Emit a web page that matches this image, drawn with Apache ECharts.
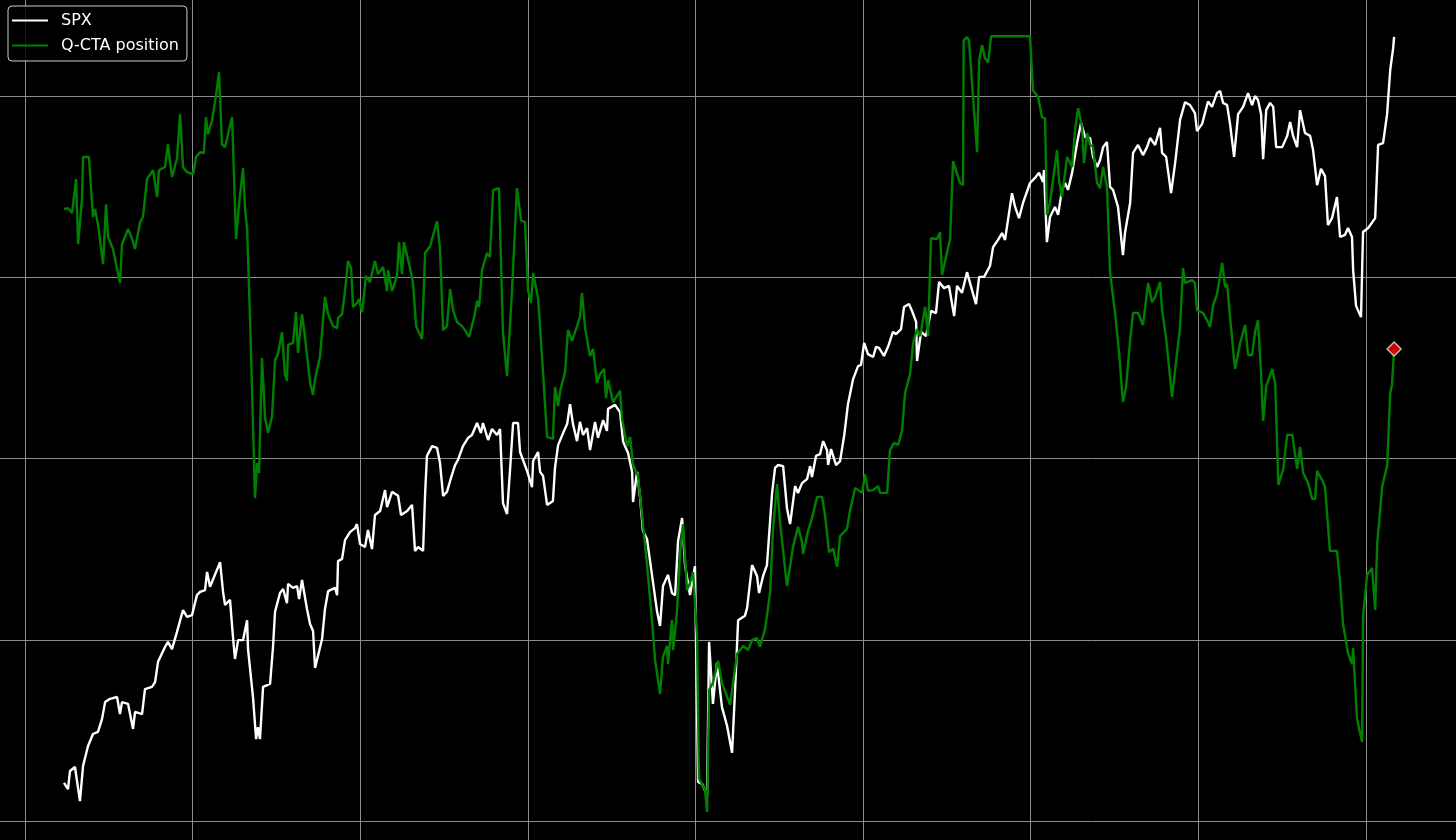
<!DOCTYPE html>
<html>
<head>
<meta charset="utf-8">
<script src="https://cdn.jsdelivr.net/npm/echarts@6/dist/echarts.min.js"></script>
<style>
  html, body { margin: 0; padding: 0; background: #000; }
  #chart { width: 1456px; height: 840px; }
</style>
</head>
<body>
<div id="chart"></div>
<script>
// x = days since 2024-04-01, grid every quarter (91.25 days)
const seriesNames = ["SPX", "Q-CTA position"];

// SPX level, [day, value]
const spxPoints = [
  [21.2,5105],[23.4,5088],[24.5,5138],[27.2,5149],[28.3,5110],[29.9,5055],[31.6,5152],[34.3,5207],[37.0,5240],[39.7,5246],
  [41.9,5281],[43.6,5328],[46.3,5337],[50.1,5342],[51.7,5295],[52.8,5328],[56.1,5323],[58.8,5254],[59.9,5301],[63.7,5295],
  [65.3,5364],[69.1,5370],[70.8,5383],[72.4,5439],[76.2,5480],[77.8,5494],[80.0,5474],[82.7,5521],[86.0,5582],[88.2,5563],
  [90.9,5568],[93.6,5623],[95.3,5632],[98.0,5637],[99.1,5687],[100.7,5646],[106.2,5714],[107.8,5632],[108.9,5596],[111.6,5610],
  [113.2,5508],[114.3,5447],[116.0,5499],[118.7,5499],[120.9,5554],[121.4,5474],[124.1,5342],[125.8,5226],[126.8,5259],[127.9,5226],
  [129.6,5370],[133.4,5378],[135.0,5480],[136.1,5577],[138.8,5629],[140.5,5640],[142.6,5601],[143.2,5654],[145.9,5643],[148.1,5648],
  [149.2,5612],[150.8,5665],[153.5,5585],[155.2,5543],[156.8,5524],[157.9,5422],[161.7,5502],[163.3,5585],[165.0,5634],[168.8,5643],
  [169.9,5623],[170.4,5717],[172.6,5723],[174.2,5775],[176.9,5797],[179.7,5808],[180.7,5819],[182.4,5764],[185.1,5756],[186.7,5803],
  [188.9,5750],[190.5,5844],[193.3,5855],[196.0,5913],[197.1,5866],[199.8,5908],[203.1,5897],[204.7,5844],[208.0,5855],[210.7,5872],
  [212.3,5745],[214.0,5756],[216.7,5745],[217.8,5902],[218.8,6007],[221.6,6034],[224.3,6029],[225.9,5988],[227.6,5897],[229.7,5908],
  [231.4,5938],[234.1,5982],[235.7,5996],[238.4,6034],[241.2,6057],[243.3,6065],[246.1,6098],[248.2,6070],[249.3,6098],[252.1,6051],
  [254.2,6081],[257.0,6065],[258.6,6081],[260.2,5877],[262.4,5847],[264.0,5966],[265.7,6098],[268.4,6098],[269.5,6018],[273.3,5966],
  [276.0,5921],[276.6,5993],[279.3,6018],[280.4,5963],[282.0,5952],[284.2,5872],[287.4,5883],[288.5,5974],[290.2,6037],[292.9,6070],
  [295.1,6095],[296.7,6150],[298.3,6095],[300.5,6048],[302.1,6101],[303.8,6065],[306.0,6084],[307.6,6023],[310.3,6101],[311.9,6057],
  [314.7,6106],[316.8,6076],[317.4,6137],[321.2,6148],[323.9,6128],[325.6,6046],[328.3,6015],[330.5,5963],[331.0,5880],[333.2,5963],
  [334.8,5894],[336.4,5800],[338.6,5778],[341.3,5679],[344.1,5577],[345.7,5538],[347.3,5648],[350.0,5679],[352.2,5629],[353.9,5623],
  [355.5,5772],[357.7,5836],[359.3,5706],[362.0,5623],[364.7,5703],[366.4,5108],[368.6,5102],[371.3,5072],[372.4,5494],[374.5,5323],
  [376.7,5436],[379.4,5314],[382.2,5262],[384.9,5188],[386.5,5356],[388.2,5554],[391.9,5566],[393.1,5588],[395.8,5706],[398.5,5676],
  [399.6,5629],[401.8,5676],[403.9,5706],[406.7,5905],[408.3,5974],[409.9,5982],[412.7,5979],[414.8,5863],[416.5,5819],[419.2,5924],
  [420.8,5905],[423.0,5932],[425.7,5943],[427.4,5979],[428.4,5949],[430.6,6007],[432.8,6012],[434.5,6048],[436.6,6023],[437.2,5982],
  [438.8,6026],[441.5,5982],[443.7,5993],[445.9,6062],[448.0,6150],[450.8,6219],[453.5,6255],[455.1,6258],[456.8,6319],[458.9,6288],
  [461.7,6280],[463.3,6308],[464.9,6305],[467.6,6283],[469.8,6308],[472.5,6349],[474.2,6343],[476.9,6357],[478.5,6418],[481.2,6426],
  [482.9,6407],[485.1,6377],[485.6,6269],[487.8,6349],[490.5,6338],[493.2,6407],[495.9,6401],[497.6,6487],[500.3,6470],[503.0,6476],
  [505.8,6393],[507.4,6476],[510.1,6457],[512.8,6514],[515.5,6465],[517.7,6426],[519.4,6501],[522.1,6501],[525.3,6531],[527.0,6583],
  [529.7,6603],[531.9,6622],[533.5,6603],[537.3,6732],[539.0,6694],[541.1,6663],[543.3,6705],[547.1,6760],[549.8,6774],[552.0,6788],
  [554.2,6763],[554.7,6796],[556.3,6597],[558.0,6666],[560.7,6694],[562.4,6672],[564.5,6741],[566.2,6760],[567.8,6741],[570.0,6788],
  [572.7,6870],[574.9,6926],[577.1,6887],[579.8,6884],[581.4,6832],[583.6,6804],[585.2,6823],[586.9,6859],[589.0,6873],[590.7,6749],
  [592.3,6741],[595.0,6694],[597.7,6561],[598.8,6622],[601.6,6705],[603.2,6843],[605.9,6865],[608.6,6837],[610.8,6859],[612.5,6884],
  [615.2,6865],[617.9,6912],[619.0,6843],[621.2,6832],[623.9,6732],[626.1,6815],[628.8,6934],[631.5,6983],[634.2,6975],[636.9,6953],
  [638.0,6903],[640.8,6923],[644.0,6985],[646.2,6970],[648.9,7008],[650.6,7014],[652.2,6981],[654.4,6975],[656.0,6923],[658.2,6832],
  [660.4,6950],[663.1,6970],[665.8,7008],[668.0,6975],[669.6,7000],[671.2,6989],[672.9,6950],[674.0,6826],[675.7,6961],[677.8,6981],
  [679.5,6970],[681.1,6859],[684.4,6859],[687.1,6890],[688.7,6928],[690.3,6890],[692.5,6859],[694.1,6961],[696.8,6898],[699.6,6890],
  [701.2,6851],[703.4,6754],[705.5,6799],[707.7,6779],[709.3,6644],[711.5,6663],[714.2,6721],[715.9,6611],[718.6,6617],[720.2,6636],
  [722.4,6611],[723.0,6520],[724.6,6421],[727.3,6390],[728.4,6625],[731.2,6636],[735.0,6663],[736.6,6865],[739.3,6870],[741.5,6950],
  [743.2,7072],[744.8,7132],[745.3,7163]
];

// Q-CTA position, [day, value] (right axis)
const ctaPoints = [
  [21.2,62.4],[23.4,62.6],[25.6,61.4],[27.8,69.9],[28.9,53.6],[31.0,64.9],[31.6,75.4],[34.8,75.4],[37.0,60.4],[38.1,62.4],
  [39.7,58.6],[42.5,48.6],[44.1,63.6],[45.2,55.4],[47.9,52.4],[51.7,43.9],[52.8,53.6],[56.1,57.4],[58.3,54.9],[59.9,52.4],
  [62.6,59.1],[64.2,60.4],[66.4,69.9],[69.7,72.1],[71.9,65.4],[72.9,72.1],[76.2,72.9],[77.8,78.6],[80.0,70.4],[82.7,74.9],
  [84.4,86.1],[86.0,72.9],[88.2,71.6],[91.5,71.1],[93.1,75.4],[95.3,76.6],[97.4,76.4],[98.5,85.4],[99.6,81.1],[101.8,84.6],
  [104.0,90.9],[105.6,96.6],[107.2,78.6],[108.9,77.9],[112.7,85.4],[114.9,54.9],[116.5,63.6],[118.7,72.6],[119.8,62.4],[120.9,57.4],
  [122.5,34.9],[125.2,-9.9],[126.3,-1.1],[127.4,-3.6],[129.0,25.1],[130.7,10.1],[132.3,6.4],[134.5,10.6],[136.1,24.6],[137.7,26.1],
  [139.9,31.6],[141.5,20.9],[142.6,19.4],[143.2,28.4],[145.9,28.9],[147.5,36.6],[148.6,26.4],[150.8,36.1],[152.4,30.4],[155.2,18.9],
  [156.8,15.9],[157.9,19.9],[160.6,25.6],[163.3,40.4],[165.0,36.1],[167.7,33.1],[169.9,32.6],[170.4,35.1],[172.6,36.1],[174.2,41.9],
  [175.8,49.4],[177.5,47.6],[178.6,37.9],[180.7,38.9],[181.8,39.9],[183.5,36.6],[185.6,45.6],[187.8,44.1],[190.5,49.4],[192.2,46.1],
  [194.9,47.9],[197.1,41.9],[197.6,47.1],[199.8,41.9],[202.5,45.6],[203.6,54.1],[205.2,46.1],[206.3,54.1],[209.6,47.6],[211.2,44.1],
  [212.9,33.1],[216.1,29.9],[217.8,51.4],[220.5,53.1],[224.3,59.4],[225.9,52.4],[227.6,32.1],[229.7,33.1],[231.4,42.4],[233.0,37.1],
  [235.2,34.1],[237.9,33.1],[239.5,32.1],[241.7,30.4],[244.4,35.1],[246.1,39.4],[247.2,37.9],[248.8,47.1],[251.5,51.4],[253.1,50.4],
  [254.8,67.1],[258.0,67.6],[260.2,31.4],[262.4,20.6],[265.1,41.9],[267.8,67.6],[270.0,59.6],[272.2,59.1],[273.8,42.1],[275.5,38.9],
  [276.6,46.4],[279.3,40.1],[282.0,21.6],[284.2,5.4],[287.4,4.9],[288.5,17.9],[290.2,13.1],[291.3,16.9],[294.0,21.6],[295.6,32.1],
  [297.8,29.4],[300.5,33.1],[302.1,35.4],[303.2,41.4],[304.9,32.6],[307.6,25.6],[309.2,27.4],[311.4,18.9],[313.0,21.1],[315.2,22.4],
  [316.3,15.1],[317.4,19.6],[320.1,14.1],[323.9,16.9],[325.0,9.9],[327.7,3.1],[329.4,5.4],[331.0,-1.6],[333.7,-4.4],[336.4,-16.4],
  [338.6,-26.6],[341.3,-40.4],[343.0,-50.4],[345.7,-58.9],[347.3,-49.6],[349.5,-46.9],[350.0,-51.4],[352.2,-40.4],[352.8,-47.9],[354.9,-38.4],
  [356.6,-23.6],[358.2,-16.4],[360.4,-32.9],[362.0,-31.1],[363.7,-28.4],[365.8,-44.1],[366.9,-80.1],[370.2,-82.9],[371.3,-88.4],[372.4,-57.9],
  [374.5,-56.1],[377.3,-50.6],[379.4,-56.1],[383.8,-61.6],[387.6,-48.9],[390.9,-46.9],[393.6,-47.9],[395.8,-45.4],[398.5,-44.9],[400.1,-47.1],
  [402.9,-42.6],[405.6,-33.6],[407.2,-17.6],[409.4,-6.4],[411.0,-15.9],[414.8,-31.9],[418.1,-22.1],[420.8,-17.1],[423.0,-20.9],[423.5,-23.9],
  [426.3,-18.1],[428.4,-14.9],[431.2,-9.6],[433.9,-9.6],[435.5,-14.1],[437.7,-23.4],[439.9,-22.6],[442.1,-27.1],[443.7,-19.4],[447.5,-17.6],
  [449.1,-13.1],[451.9,-7.4],[455.7,-8.6],[457.3,-3.9],[458.9,-8.1],[461.7,-7.9],[464.4,-6.9],[465.5,-8.6],[469.3,-8.6],[470.9,2.1],
  [473.1,3.9],[475.3,3.4],[477.4,6.9],[479.1,16.4],[481.8,21.1],[483.5,28.9],[485.6,32.4],[487.3,30.6],[490.0,37.9],[491.6,30.6],
  [493.2,55.1],[496.5,54.9],[498.1,56.6],[499.2,45.9],[503.6,54.9],[505.2,74.4],[509.0,68.9],[510.6,68.4],[511.0,104.6],[512.8,105.4],
  [513.9,104.6],[516.1,90.4],[518.3,76.6],[519.4,99.6],[521.0,103.4],[522.6,100.1],[524.3,99.1],[525.9,105.6],[547.1,105.6],[548.7,92.1],
  [551.5,90.4],[553.6,85.4],[555.3,85.1],[556.3,60.9],[558.0,64.1],[559.6,69.6],[561.8,77.1],[562.9,69.6],[564.5,65.4],[567.3,75.4],
  [570.0,72.9],[571.6,82.1],[573.3,87.6],[575.4,82.9],[576.5,73.9],[578.2,81.4],[579.8,78.4],[581.4,77.9],[583.6,68.9],[585.2,67.6],
  [586.9,72.9],[589.0,67.9],[590.7,46.4],[593.4,36.4],[595.6,26.4],[597.7,14.1],[599.4,17.9],[601.6,29.6],[603.2,36.4],[605.9,36.4],
  [608.6,33.4],[611.4,43.9],[613.5,39.1],[615.2,40.4],[617.9,44.1],[619.0,37.1],[621.2,30.1],[624.4,15.4],[626.1,22.1],[628.8,32.9],
  [630.4,47.6],[631.5,43.9],[635.3,44.6],[636.9,43.9],[638.0,37.1],[641.3,36.4],[644.0,34.1],[645.1,32.9],[646.7,38.1],[648.9,41.1],
  [651.7,48.9],[653.3,42.9],[654.4,43.6],[656.0,35.4],[658.7,22.4],[661.5,28.9],[664.2,33.4],[665.8,25.9],[668.0,25.9],[669.6,31.6],
  [671.2,34.6],[672.9,21.1],[674.0,9.4],[675.7,18.1],[679.0,22.4],[680.6,18.6],[682.3,-6.6],[685.0,-2.6],[687.1,5.9],[689.9,5.9],
  [692.5,-2.6],[694.1,2.9],[695.8,-3.6],[698.5,-6.1],[700.7,-10.1],[702.3,-10.1],[703.4,-3.1],[706.1,-5.4],[707.7,-7.1],[710.4,-23.1],
  [714.2,-23.1],[715.9,-30.9],[717.5,-41.4],[720.2,-48.6],[722.4,-51.4],[723.0,-47.4],[725.1,-65.1],[727.9,-70.9],[728.4,-39.6],[730.6,-29.1],
  [733.3,-27.4],[735.0,-37.9],[736.1,-21.4],[738.8,-7.1],[741.5,-1.9],[743.2,16.4],[744.2,18.6],[745.3,27.4]
];

var chartDom = document.getElementById("chart");
var myChart = echarts.init(chartDom, null, { renderer: "canvas" });

var gridLine = { show: true, lineStyle: { color: "#8e8e8e", width: 1 } };
var hidden = { show: false };

var option = {
  backgroundColor: "#000",
  animation: false,
  grid: {
    left: -142.6,
    right: -77.6,
    top: -85.25,
    bottom: -162.25,
    containLabel: false,
    outerBoundsMode: "none",
  },
  legend: {
    data: seriesNames,
    orient: "vertical",
    left: 8,
    top: 6,
    padding: [6, 8, 7, 4],
    itemGap: 8,
    itemWidth: 36,
    itemHeight: 2,
    icon: "rect",
    backgroundColor: "rgba(0,0,0,0.8)",
    borderColor: "#cccccc",
    borderWidth: 1,
    borderRadius: 4,
    textStyle: {
      color: "#ffffff",
      fontSize: 16,
      fontFamily: "DejaVu Sans",
      lineHeight: 17,
      padding: [0, 0, 0, 8],
    },
  },
  xAxis: {
    type: "value",
    min: -91.25,
    max: 821.25,
    interval: 91.25,
    axisLine: hidden,
    axisTick: hidden,
    axisLabel: hidden,
    splitLine: gridLine,
  },
  yAxis: [
    {
      type: "value",
      min: 4500,
      max: 7500,
      interval: 500,
      axisLine: hidden,
      axisTick: hidden,
      axisLabel: hidden,
      splitLine: gridLine,
    },
    {
      type: "value",
      position: "right",
      min: -136,
      max: 136,
      axisLine: hidden,
      axisTick: hidden,
      axisLabel: hidden,
      splitLine: hidden,
    },
  ],
  series: [
    {
      name: seriesNames[0],
      type: "line",
      data: spxPoints,
      symbol: "none",
      color: "#ffffff",
      lineStyle: { color: "#ffffff", width: 2.4 },
      z: 2,
    },
    {
      name: seriesNames[1],
      type: "line",
      yAxisIndex: 1,
      data: ctaPoints,
      symbol: "none",
      color: "#008000",
      lineStyle: { color: "#008000", width: 2.4 },
      z: 3,
    },
    {
      // latest position marker
      name: "latest",
      type: "scatter",
      yAxisIndex: 1,
      data: [ctaPoints[ctaPoints.length - 1]],
      symbol: "diamond",
      symbolSize: 14,
      itemStyle: { color: "#ff0000", borderColor: "#e0e0e0", borderWidth: 1.5 },
      z: 4,
    },
  ],
};

myChart.setOption(option);
</script>
</body>
</html>
